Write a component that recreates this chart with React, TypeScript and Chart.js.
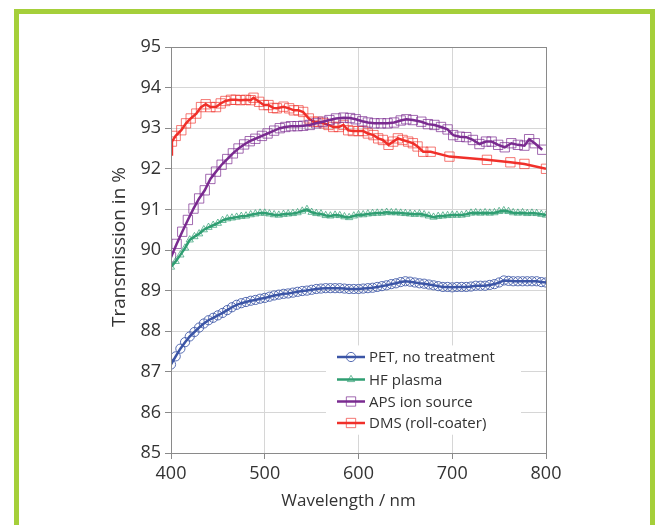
import React, { useEffect, useRef } from "react";
import { Chart, registerables } from "chart.js";

Chart.register(...registerables);

const seriesNames = ["PET, no treatment", "HF plasma", "APS ion source", "DMS (roll-coater)"];

const petWavelength = [400, 405, 410, 415, 420, 425, 430, 435, 440, 445, 450, 455, 460, 465, 470, 475, 480, 485, 490, 495, 500, 505, 510, 515, 520, 525, 530, 535, 540, 545, 550, 555, 560, 565, 570, 575, 580, 585, 590, 595, 600, 605, 610, 615, 620, 625, 630, 635, 640, 645, 650, 655, 660, 665, 670, 675, 680, 685, 690, 695, 700, 705, 710, 715, 720, 725, 730, 735, 740, 745, 750, 755, 760, 765, 770, 775, 780, 785, 790, 795, 800];
const petValues = [87.18, 87.38, 87.57, 87.73, 87.87, 87.98, 88.09, 88.19, 88.27, 88.33, 88.39, 88.45, 88.52, 88.59, 88.65, 88.69, 88.72, 88.75, 88.77, 88.8, 88.82, 88.85, 88.88, 88.9, 88.92, 88.93, 88.95, 88.97, 88.99, 89.0, 89.02, 89.04, 89.05, 89.06, 89.06, 89.06, 89.06, 89.05, 89.04, 89.04, 89.04, 89.05, 89.06, 89.07, 89.09, 89.11, 89.13, 89.16, 89.18, 89.21, 89.23, 89.22, 89.2, 89.18, 89.17, 89.15, 89.13, 89.11, 89.09, 89.09, 89.08, 89.09, 89.09, 89.09, 89.1, 89.12, 89.12, 89.12, 89.14, 89.16, 89.2, 89.25, 89.24, 89.23, 89.23, 89.23, 89.23, 89.23, 89.23, 89.21, 89.2];

const hfWavelength = [400, 405, 410, 415, 420, 425, 430, 435, 440, 445, 450, 455, 460, 465, 470, 475, 480, 485, 490, 495, 500, 505, 510, 515, 520, 525, 530, 535, 540, 545, 550, 555, 560, 565, 570, 575, 580, 585, 590, 595, 600, 605, 610, 615, 620, 625, 630, 635, 640, 645, 650, 655, 660, 665, 670, 675, 680, 685, 690, 695, 700, 705, 710, 715, 720, 725, 730, 735, 740, 745, 750, 755, 760, 765, 770, 775, 780, 785, 790, 795, 800];
const hfValues = [89.58, 89.72, 89.88, 90.05, 90.25, 90.33, 90.4, 90.5, 90.56, 90.61, 90.66, 90.73, 90.77, 90.79, 90.81, 90.83, 90.84, 90.87, 90.89, 90.91, 90.91, 90.89, 90.87, 90.86, 90.88, 90.89, 90.9, 90.92, 90.96, 91.0, 90.93, 90.9, 90.89, 90.85, 90.84, 90.86, 90.85, 90.82, 90.8, 90.84, 90.87, 90.87, 90.89, 90.9, 90.91, 90.91, 90.93, 90.92, 90.92, 90.91, 90.9, 90.89, 90.88, 90.89, 90.87, 90.84, 90.81, 90.83, 90.84, 90.85, 90.86, 90.86, 90.86, 90.88, 90.91, 90.92, 90.91, 90.92, 90.91, 90.92, 90.95, 90.97, 90.95, 90.92, 90.91, 90.92, 90.9, 90.91, 90.9, 90.88, 90.86];

const apsWavelength = [400, 406, 412, 418, 424, 430, 436, 442, 448, 454, 460, 466, 472, 478, 484, 490, 497, 503, 510, 516, 522, 528, 535, 541, 548, 555, 562, 569, 576, 584, 591, 597, 604, 610, 617, 624, 631, 638, 645, 651, 658, 667, 674, 681, 688, 695, 701, 708, 715, 722, 729, 736, 742, 749, 756, 763, 770, 777, 782, 788, 796];
const apsValues = [89.82, 90.15, 90.45, 90.74, 91.02, 91.27, 91.47, 91.75, 91.93, 92.1, 92.24, 92.38, 92.5, 92.6, 92.68, 92.74, 92.81, 92.87, 92.94, 93.0, 93.03, 93.05, 93.05, 93.06, 93.08, 93.12, 93.16, 93.2, 93.24, 93.26, 93.25, 93.22, 93.17, 93.14, 93.12, 93.12, 93.12, 93.14, 93.19, 93.22, 93.2, 93.16, 93.1, 93.08, 93.03, 92.97, 92.83, 92.79, 92.78, 92.71, 92.61, 92.67, 92.67, 92.59, 92.53, 92.63, 92.59, 92.57, 92.73, 92.63, 92.47];

const dmsWavelength = [400, 401, 405, 411, 416, 421, 427, 432, 437, 442, 448, 453, 458, 464, 469, 474, 480, 485, 488, 494, 499, 504, 509, 513, 520, 526, 531, 536, 541, 547, 552, 557, 563, 568, 573, 579, 584, 589, 594, 600, 605, 610, 616, 621, 626, 632, 637, 642, 647, 653, 658, 663, 669, 677, 697, 737, 762, 777, 800];
const dmsValues = [92.35, 92.67, 92.81, 92.95, 93.12, 93.24, 93.36, 93.52, 93.59, 93.52, 93.52, 93.61, 93.67, 93.7, 93.7, 93.69, 93.7, 93.69, 93.75, 93.65, 93.57, 93.57, 93.5, 93.49, 93.53, 93.49, 93.44, 93.44, 93.4, 93.24, 93.16, 93.16, 93.12, 93.08, 93.03, 93.03, 93.08, 92.95, 92.93, 92.93, 92.93, 92.87, 92.83, 92.75, 92.71, 92.59, 92.67, 92.75, 92.71, 92.67, 92.63, 92.55, 92.42, 92.42, 92.3, 92.22, 92.16, 92.12, 92.0];

const xTickValues = [400, 500, 600, 700, 800];
const yTickValues = [85, 86, 87, 88, 89, 90, 91, 92, 93, 94, 95];

const xTitle = "Wavelength / nm";
const yTitle = "Transmission in %";

const FONT = "'Open Sans', 'Noto Sans', sans-serif";
const TEXT = "#333333";

const lineColors = ["#3b55a6", "#2f9e72", "#7a2b90", "#f0302a"];
const markerColors = ["rgba(59,85,166,0.85)", "rgba(47,158,114,0.7)", "rgba(122,43,144,0.7)", "rgba(240,48,42,0.65)"];
const markerStyles = ["circle", "triangle", "rect", "rect"];
const markerRadii = [4.6, 4.2, 6.6, 6.6];

function toPoints(xs: number[], ys: number[]) {
  return xs.map((x, i) => ({ x, y: ys[i] }));
}

function drawMarker(ctx: CanvasRenderingContext2D, style: string, r: number, x: number, y: number) {
  ctx.beginPath();
  if (style === "circle") {
    ctx.arc(x, y, r, 0, Math.PI * 2);
  } else if (style === "triangle") {
    const h = r * 1.5;
    const s = r * Math.sqrt(3);
    ctx.moveTo(x, y - r);
    ctx.lineTo(x + s / 2, y - r + h);
    ctx.lineTo(x - s / 2, y - r + h);
    ctx.closePath();
  } else {
    const s = r * Math.SQRT1_2;
    ctx.rect(x - s, y - s, 2 * s, 2 * s);
  }
  ctx.stroke();
}

const overlayPlugin = {
  id: "overlay",
  beforeDatasetsDraw(chart: any) {
    const { ctx, chartArea } = chart;
    const ys = chart.scales.y;
    ctx.save();
    ctx.fillStyle = "#ffffff";
    const bx = chartArea.left + 155;
    const by = ys.getPixelForValue(87.65);
    ctx.fillRect(bx, by, 195, ys.getPixelForValue(85.45) - by);
    ctx.restore();
  },
  afterDatasetsDraw(chart: any) {
    const { ctx, chartArea } = chart;
    ctx.save();
    ctx.strokeStyle = "#8a8a8a";
    ctx.lineWidth = 1;
    ctx.strokeRect(
      Math.round(chartArea.left) + 0.5,
      Math.round(chartArea.top) + 0.5,
      Math.round(chartArea.right - chartArea.left),
      Math.round(chartArea.bottom - chartArea.top)
    );
    const lx = chartArea.left + 166;
    const rows = [357, 379.5, 401.5, 423];
    chart.data.datasets.forEach((ds: any, i: number) => {
      const y = rows[i];
      ctx.strokeStyle = lineColors[i];
      ctx.lineWidth = 2.5;
      ctx.beginPath();
      ctx.moveTo(lx, y);
      ctx.lineTo(lx + 28, y);
      ctx.stroke();
      ctx.lineWidth = 1;
      ctx.strokeStyle = markerColors[i];
      drawMarker(ctx, markerStyles[i], markerRadii[i], lx + 14, y);
      ctx.fillStyle = TEXT;
      ctx.font = `15px ${FONT}`;
      ctx.textAlign = "left";
      ctx.textBaseline = "middle";
      ctx.fillText(ds.label, lx + 32, y + 1);
    });
    ctx.restore();
  },
  afterDraw(chart: any) {
    const { ctx, chartArea } = chart;
    ctx.save();
    ctx.fillStyle = TEXT;
    ctx.font = `17px ${FONT}`;
    ctx.textAlign = "center";
    ctx.textBaseline = "middle";
    ctx.fillText(xTitle, (chartArea.left + chartArea.right) / 2 - 10, 501);
    ctx.font = `19px ${FONT}`;
    ctx.translate(120, (chartArea.top + chartArea.bottom) / 2 - 3);
    ctx.rotate(-Math.PI / 2);
    ctx.fillText(yTitle, 0, 0);
    ctx.restore();
  },
};

export default function App() {
  const canvasRef = useRef<HTMLCanvasElement | null>(null);

  useEffect(() => {
    document.body.style.margin = "0";
    const canvas = canvasRef.current;
    if (!canvas) return;
    const seriesX = [petWavelength, hfWavelength, apsWavelength, dmsWavelength];
    const seriesY = [petValues, hfValues, apsValues, dmsValues];
    const datasets = seriesNames.map((name, i) => ({
      label: name,
      data: toPoints(seriesX[i], seriesY[i]),
      borderColor: lineColors[i],
      borderWidth: 2.5,
      pointStyle: markerStyles[i],
      pointRadius: i === 3 ? (c: any) => (c.dataIndex === 0 ? 0 : markerRadii[i]) : markerRadii[i],
      pointBorderColor: markerColors[i],
      pointBackgroundColor: "rgba(255,255,255,0)",
      pointBorderWidth: 1,
      tension: 0,
      fill: false,
      order: i,
    }));
    const chart = new Chart(canvas, {
      type: "line",
      data: { datasets },
      options: {
        animation: false,
        responsive: false,
        maintainAspectRatio: false,
        layout: { padding: { left: 0, top: 47, right: 115, bottom: 0 } },
        plugins: { legend: { display: false }, tooltip: { enabled: false } },
        scales: {
          x: {
            type: "linear",
            min: 400,
            max: 800,
            afterBuildTicks: (scale: any) => {
              scale.ticks = xTickValues.map((v) => ({ value: v }));
            },
            afterFit: (scale: any) => {
              scale.height = 525 - 453;
            },
            ticks: { color: TEXT, font: { family: FONT, size: 18 }, padding: 4 },
            grid: { color: "#d6d6d6", lineWidth: 1, tickColor: "#8a8a8a", tickLength: 6 },
            border: { color: "#8a8a8a", width: 1 },
          },
          y: {
            type: "linear",
            min: 85,
            max: 95,
            afterBuildTicks: (scale: any) => {
              scale.ticks = yTickValues.map((v) => ({ value: v }));
            },
            afterFit: (scale: any) => {
              scale.width = 171;
            },
            ticks: { color: TEXT, font: { family: FONT, size: 18 }, padding: 4 },
            grid: { color: "#d6d6d6", lineWidth: 1, tickColor: "#8a8a8a", tickLength: 6 },
            border: { color: "#8a8a8a", width: 1 },
          },
        },
      },
      plugins: [overlayPlugin],
    } as any);
    return () => chart.destroy();
  }, []);

  return (
    <div style={{ position: "fixed", left: 0, top: 0, width: 661, height: 525, background: "#fff", overflow: "hidden" }}>
      <canvas ref={canvasRef} width={661} height={525} style={{ display: "block", width: 661, height: 525 }} />
      <div
        style={{
          position: "absolute",
          left: 14,
          top: 9,
          width: 631,
          height: 600,
          borderLeft: "5px solid #a5cf3a",
          borderRight: "5px solid #a5cf3a",
          borderTop: "5px solid #a5cf3a",
          pointerEvents: "none",
        }}
      />
    </div>
  );
}
